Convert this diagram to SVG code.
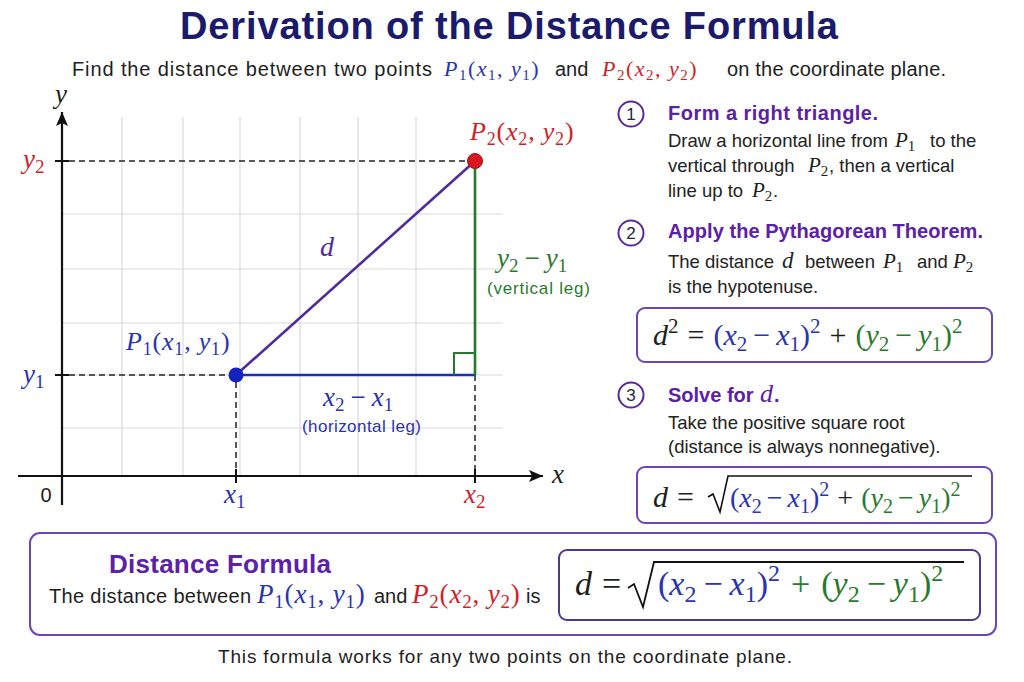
<svg xmlns="http://www.w3.org/2000/svg" width="1024" height="682" viewBox="0 0 1024 682">
<defs>
<style>
.sans{font-family:"Liberation Sans",Arial,sans-serif}
.m{font-family:"Liberation Serif","Times New Roman",serif}
.i{font-style:italic}
.blue{fill:#2a33b0}
.red{fill:#cf1f2a}
.green{fill:#2a7a2e}
.purple{fill:#5b21a8}
.ink{fill:#1e1e1e}
.grid{stroke:#dadada;stroke-width:1.2;fill:none}
.dash{stroke:#222;stroke-width:1.5;stroke-dasharray:6 4;fill:none}
.tick{stroke:#111;stroke-width:2}
.box{fill:#fff;stroke:#6c45b8;stroke-width:2}
.num{fill:#fff;stroke:#5a2a9a;stroke-width:2}
.head{font-family:"Liberation Sans",Arial,sans-serif;font-weight:bold;font-size:20px;fill:#5b21a8}
.body{font-family:"Liberation Sans",Arial,sans-serif;font-size:18.5px;fill:#222}
</style>
<marker id="arr" markerUnits="userSpaceOnUse" markerWidth="16" markerHeight="14" refX="14" refY="6" orient="auto">
<path d="M0,0 L14,6 L0,12 L3,6 z" fill="#111"/>
</marker>
</defs>
<rect width="1024" height="682" fill="#fff"/>

<g id="title">
<text class="sans" x="509" y="39" text-anchor="middle" font-size="38" font-weight="bold" fill="#1b1a6b" textLength="658">Derivation of the Distance Formula</text>
</g>

<g id="subtitle">
<text class="sans ink" x="72" y="76" font-size="20" textLength="360">Find the distance between two points</text>
<text class="m blue" x="444" y="76" font-size="22" letter-spacing="1.5"><tspan class="i">P</tspan><tspan font-size="15" dy="4">1</tspan><tspan dy="-4">(</tspan><tspan class="i">x</tspan><tspan font-size="15" dy="4">1</tspan><tspan dy="-4">, </tspan><tspan class="i">y</tspan><tspan font-size="15" dy="4">1</tspan><tspan dy="-4">)</tspan></text>
<text class="sans ink" x="555" y="76" font-size="20">and</text>
<text class="m red" x="602" y="76" font-size="22" letter-spacing="1.5"><tspan class="i">P</tspan><tspan font-size="15" dy="4">2</tspan><tspan dy="-4">(</tspan><tspan class="i">x</tspan><tspan font-size="15" dy="4">2</tspan><tspan dy="-4">, </tspan><tspan class="i">y</tspan><tspan font-size="15" dy="4">2</tspan><tspan dy="-4">)</tspan></text>
<text class="sans ink" x="727" y="76" font-size="20" textLength="219">on the coordinate plane.</text>
</g>

<g id="grid">
<path class="grid" d="M122,117V476M183,117V476M240,117V476M300,117V476M358,117V476M416,117V476M62,214H503M62,269H503M62,323H503M62,375H503M62,428H503"/>
</g>

<g id="connectors">
<line x1="18" y1="476" x2="543" y2="476" stroke="#111" stroke-width="2.2" marker-end="url(#arr)"/>
<line x1="62" y1="505" x2="62" y2="112" stroke="#111" stroke-width="2.2" marker-end="url(#arr)"/>
<path class="tick" d="M55,161H69M55,375H69M236,469V483M475,469V483"/>
<path class="dash" d="M69,161H468M69,375H229M236,382V469M475,375V469"/>
<path d="M236,375H475" stroke="#1f2db0" stroke-width="2.6" fill="none"/>
<path d="M475,161V375" stroke="#237a2b" stroke-width="2.6" fill="none"/>
<path d="M454,375V353H475" stroke="#237a2b" stroke-width="2" fill="none"/>
<path d="M236,375L475,161" stroke="#4f2c9c" stroke-width="2.6" fill="none"/>
</g>

<g id="P1">
<circle cx="236" cy="375" r="7.5" fill="#1622c0"/>
<text class="m blue" x="126" y="350" font-size="26" letter-spacing="0.8"><tspan class="i">P</tspan><tspan font-size="18" dy="5">1</tspan><tspan dy="-5">(</tspan><tspan class="i">x</tspan><tspan font-size="18" dy="5">1</tspan><tspan dy="-5">, </tspan><tspan class="i">y</tspan><tspan font-size="18" dy="5">1</tspan><tspan dy="-5">)</tspan></text>
</g>

<g id="P2">
<circle cx="475" cy="161" r="7.5" fill="#d8161f" stroke="#a80d14" stroke-width="1"/>
<text class="m red" x="470" y="140" font-size="26" letter-spacing="0.8"><tspan class="i">P</tspan><tspan font-size="18" dy="5">2</tspan><tspan dy="-5">(</tspan><tspan class="i">x</tspan><tspan font-size="18" dy="5">2</tspan><tspan dy="-5">, </tspan><tspan class="i">y</tspan><tspan font-size="18" dy="5">2</tspan><tspan dy="-5">)</tspan></text>
</g>

<g id="axis-labels">
<text class="m i ink" x="61" y="103" font-size="27" text-anchor="middle">y</text>
<text class="m i ink" x="558" y="483" font-size="27" text-anchor="middle">x</text>
<text class="sans ink" x="46" y="502" font-size="20" text-anchor="middle">0</text>
<text class="m red" x="23" y="168" font-size="27"><tspan class="i">y</tspan><tspan font-size="19" dy="5">2</tspan></text>
<text class="m blue" x="23" y="383" font-size="27"><tspan class="i">y</tspan><tspan font-size="19" dy="5">1</tspan></text>
<text class="m blue" x="224" y="503" font-size="27"><tspan class="i">x</tspan><tspan font-size="19" dy="5">1</tspan></text>
<text class="m red" x="464" y="503" font-size="27"><tspan class="i">x</tspan><tspan font-size="19" dy="5">2</tspan></text>
</g>

<g id="hypotenuse-label">
<text class="m i" x="320" y="256" font-size="28" fill="#4f2c9c">d</text>
</g>

<g id="vertical-leg-label">
<text class="m green" x="497" y="267" font-size="27"><tspan class="i">y</tspan><tspan font-size="19" dy="5">2</tspan><tspan dy="-5" dx="6">−</tspan><tspan class="i" dx="6">y</tspan><tspan font-size="19" dy="5">1</tspan></text>
<text class="sans green" x="487" y="294" font-size="17" textLength="103">(vertical leg)</text>
</g>

<g id="horizontal-leg-label">
<text class="m blue" x="323" y="406" font-size="27"><tspan class="i">x</tspan><tspan font-size="19" dy="5">2</tspan><tspan dy="-5" dx="6">−</tspan><tspan class="i" dx="6">x</tspan><tspan font-size="19" dy="5">1</tspan></text>
<text class="sans blue" x="302" y="432" font-size="17" textLength="119">(horizontal leg)</text>
</g>

<g id="step1">
<circle class="num" cx="631" cy="114" r="12.5"/>
<text class="sans" x="631" y="120" font-size="17" text-anchor="middle" fill="#2a2340">1</text>
<text class="head" x="668" y="120" textLength="210">Form a right triangle.</text>
<text class="body" x="668" y="147">Draw a horizontal line from</text>
<text class="m i ink" x="895" y="147" font-size="21">P<tspan font-style="normal" font-size="15" dy="4">1</tspan></text>
<text class="body" x="930" y="147">to the</text>
<text class="body" x="668" y="172">vertical through</text>
<text class="m i ink" x="808" y="172" font-size="21">P<tspan font-style="normal" font-size="15" dy="4">2</tspan></text>
<text class="body" x="829" y="172">, then a vertical</text>
<text class="body" x="668" y="197">line up to</text>
<text class="m i ink" x="752" y="197" font-size="21">P<tspan font-style="normal" font-size="15" dy="4">2</tspan></text>
<text class="body" x="773" y="197">.</text>
</g>

<g id="step2">
<circle class="num" cx="631" cy="233" r="12.5"/>
<text class="sans" x="631" y="239" font-size="17" text-anchor="middle" fill="#2a2340">2</text>
<text class="head" x="668" y="238" textLength="315">Apply the Pythagorean Theorem.</text>
<text class="body" x="668" y="268">The distance</text>
<text class="m i ink" x="782" y="268" font-size="23">d</text>
<text class="body" x="805" y="268">between</text>
<text class="m i ink" x="883" y="268" font-size="21">P<tspan font-style="normal" font-size="15" dy="4">1</tspan></text>
<text class="body" x="917" y="268">and</text>
<text class="m i ink" x="953" y="268" font-size="21">P<tspan font-style="normal" font-size="15" dy="4">2</tspan></text>
<text class="body" x="668" y="293">is the hypotenuse.</text>
</g>

<g id="formula1">
<rect class="box" x="637" y="308" width="355" height="54" rx="8"/>
<text class="m ink" x="653" y="345" font-size="30"><tspan class="i">d</tspan><tspan font-size="21" dy="-12">2</tspan><tspan dy="12" dx="9">=</tspan><tspan class="blue" dx="9">(</tspan><tspan class="blue i">x</tspan><tspan class="blue" font-size="21" dy="6">2</tspan><tspan class="blue" dy="-6" dx="6">−</tspan><tspan class="blue i" dx="6">x</tspan><tspan class="blue" font-size="21" dy="6">1</tspan><tspan class="blue" dy="-6">)</tspan><tspan class="blue" font-size="21" dy="-12">2</tspan><tspan dy="12" dx="9">+</tspan><tspan class="green" dx="9">(</tspan><tspan class="green i">y</tspan><tspan class="green" font-size="21" dy="6">2</tspan><tspan class="green" dy="-6" dx="6">−</tspan><tspan class="green i" dx="6">y</tspan><tspan class="green" font-size="21" dy="6">1</tspan><tspan class="green" dy="-6">)</tspan><tspan class="green" font-size="21" dy="-12">2</tspan></text>
</g>

<g id="step3">
<circle class="num" cx="631" cy="395" r="12.5"/>
<text class="sans" x="631" y="401" font-size="17" text-anchor="middle" fill="#2a2340">3</text>
<text class="head" x="668" y="402">Solve for</text>
<text class="m i" x="760" y="402" font-size="26" fill="#5b21a8">d</text>
<text class="head" x="774" y="402">.</text>
<text class="body" x="668" y="429">Take the positive square root</text>
<text class="body" x="668" y="453">(distance is always nonnegative).</text>
</g>

<g id="formula2">
<rect class="box" x="637" y="467" width="355" height="56" rx="8"/>
<text class="m ink" x="653" y="507" font-size="30"><tspan class="i">d</tspan><tspan dx="9">=</tspan></text>
<path d="M708,497 L713,494 L720,512 L728,476 H972" fill="none" stroke="#111" stroke-width="1.6"/>
<text class="m blue" x="730" y="507" font-size="28"><tspan>(</tspan><tspan class="i">x</tspan><tspan font-size="20" dy="6">2</tspan><tspan dy="-6" dx="5">−</tspan><tspan class="i" dx="5">x</tspan><tspan font-size="20" dy="6">1</tspan><tspan dy="-6">)</tspan><tspan font-size="20" dy="-11">2</tspan><tspan class="ink" dy="11" dx="8">+</tspan><tspan class="green" dx="8">(</tspan><tspan class="green i">y</tspan><tspan class="green" font-size="20" dy="6">2</tspan><tspan class="green" dy="-6" dx="5">−</tspan><tspan class="green i" dx="5">y</tspan><tspan class="green" font-size="20" dy="6">1</tspan><tspan class="green" dy="-6">)</tspan><tspan class="green" font-size="20" dy="-11">2</tspan></text>
</g>

<g id="summary">
<rect class="box" x="30" y="533" width="966" height="102" rx="10"/>
<text class="sans" x="109" y="573" font-size="26" font-weight="bold" fill="#5b21a8" textLength="222">Distance Formula</text>
<text class="sans ink" x="49" y="603" font-size="20" textLength="202">The distance between</text>
<text class="m blue" x="257" y="603" font-size="27" letter-spacing="0.8"><tspan class="i">P</tspan><tspan font-size="19" dy="5">1</tspan><tspan dy="-5">(</tspan><tspan class="i">x</tspan><tspan font-size="19" dy="5">1</tspan><tspan dy="-5">, </tspan><tspan class="i">y</tspan><tspan font-size="19" dy="5">1</tspan><tspan dy="-5">)</tspan></text>
<text class="sans ink" x="374" y="603" font-size="20">and</text>
<text class="m red" x="412" y="603" font-size="27" letter-spacing="0.8"><tspan class="i">P</tspan><tspan font-size="19" dy="5">2</tspan><tspan dy="-5">(</tspan><tspan class="i">x</tspan><tspan font-size="19" dy="5">2</tspan><tspan dy="-5">, </tspan><tspan class="i">y</tspan><tspan font-size="19" dy="5">2</tspan><tspan dy="-5">)</tspan></text>
<text class="sans ink" x="526" y="603" font-size="20">is</text>
<rect x="559" y="550" width="421" height="70" rx="8" fill="#fff" stroke="#4e3596" stroke-width="2"/>
<text class="m ink" x="575" y="595" font-size="34"><tspan class="i">d</tspan><tspan dx="10">=</tspan></text>
<path d="M628,588 L634,584 L643,607 L654,562 H964" fill="none" stroke="#111" stroke-width="1.8"/>
<text class="m blue" x="658" y="595" font-size="34"><tspan>(</tspan><tspan class="i">x</tspan><tspan font-size="24" dy="7">2</tspan><tspan dy="-7" dx="7">−</tspan><tspan class="i" dx="7">x</tspan><tspan font-size="24" dy="7">1</tspan><tspan dy="-7">)</tspan><tspan font-size="24" dy="-14">2</tspan><tspan class="green" dy="14" dx="11">+</tspan><tspan class="green" dx="11">(</tspan><tspan class="green i">y</tspan><tspan class="green" font-size="24" dy="7">2</tspan><tspan class="green" dy="-7" dx="7">−</tspan><tspan class="green i" dx="7">y</tspan><tspan class="green" font-size="24" dy="7">1</tspan><tspan class="green" dy="-7">)</tspan><tspan class="green" font-size="24" dy="-14">2</tspan></text>
</g>

<g id="footer">
<text class="sans ink" x="505" y="663" font-size="19" text-anchor="middle" textLength="574">This formula works for any two points on the coordinate plane.</text>
</g>
</svg>
